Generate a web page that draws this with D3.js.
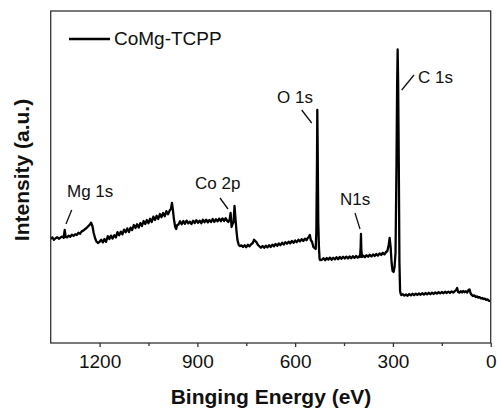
<!DOCTYPE html>
<html>
<head>
<meta charset="utf-8">
<script src="https://cdn.jsdelivr.net/npm/d3@7"></script>
<style>
  html, body { margin: 0; padding: 0; background: #fff; }
  svg { display: block; font-family: "Liberation Sans", Arial, sans-serif; }
</style>
</head>
<body>
<svg id="chart" width="497" height="409"></svg>
<script>
// ---- data ----
const seriesName = "CoMg-TCPP";
const bindingEnergy = [
  1350,1345,1340,1335,1330,1325,1320,1315,1310,1307,1304,1300,1295,1290,1285,1280,1275,1270,1265,1260,1255,1250,1245,1240,1235,1230,1226,1222,1218,1214,1210,1205,1200,
  1195,1190,1185,1180,1175,1170,1165,1160,1155,1150,1145,1140,1135,1130,1125,1120,1115,1110,1105,1100,1095,1090,1085,1080,1075,1070,1065,1060,1055,1050,1045,1040,1035,1030,1025,1020,1015,1010,1005,1000,995,990,985,981,978,975,972,968,965,962,
  958,953,948,943,938,933,928,923,918,913,908,903,898,893,888,883,878,873,868,863,858,853,848,843,838,833,828,823,818,813,809,805,801,798,795,792,789,786,783,780,777,773,769,
  765,760,755,750,745,740,735,730,726,722,718,714,710,705,700,695,690,685,680,675,670,665,660,655,650,645,640,635,630,625,620,615,610,605,600,595,590,585,580,575,570,565,561,558,555,552,548,544,540,537,535,533,532,531,529,527,525,523,
  518,513,508,503,498,493,488,483,478,473,468,463,458,453,448,443,438,433,428,423,418,413,408,404,401,399,398,397,395,391,386,381,376,371,366,361,356,351,346,341,336,331,326,321,317,313,310,307,304,301,298,295,292,289,287,285.5,284,282,280,278,276,274,
  270,265,260,255,250,245,240,235,230,225,220,215,210,205,200,195,190,185,180,175,170,165,160,155,150,145,140,135,130,125,120,115,110,106,103,100,96,92,88,84,80,76,72,68,65,62,58,54,50,46,42,38,34,30,26,22,18,14,10,6,3,0
];
const intensity = [
  52.0,52.8,51.6,52.4,52.9,52.1,52.7,53.2,52.6,56.5,53.0,52.8,53.6,53.1,54.2,53.5,54.4,54.0,55.1,54.6,55.8,56.2,56.9,57.5,58.4,59.2,60.2,58.5,55.0,52.5,50.8,50.0,50.6,
  51.7,50.3,52.0,50.6,53.4,52.0,53.7,52.2,53.9,52.8,55.4,53.9,55.7,54.3,56.7,55.4,57.3,55.5,57.7,56.5,59.0,57.5,59.4,57.7,59.9,58.5,61.0,59.5,61.5,59.9,62.1,60.5,63.2,61.5,63.6,62.0,64.5,62.9,65.0,63.4,65.9,64.4,66.2,67.0,70.0,66.5,62.0,58.0,57.0,59.0,
  59.2,60.9,59.4,61.0,59.6,61.2,59.8,60.7,59.5,61.1,60.0,61.4,60.1,61.2,59.9,61.6,60.4,61.7,60.3,61.5,60.5,62.0,60.6,61.9,60.8,62.2,60.9,62.3,61.0,62.4,61.2,60.5,61.8,65.0,58.0,59.5,60.5,68.5,62.0,56.0,51.5,49.0,48.5,
  48.8,48.0,48.9,47.9,49.1,48.3,49.4,50.0,51.6,51.0,50.2,49.0,48.4,47.6,48.5,47.6,48.7,47.8,48.9,48.0,49.2,48.3,49.5,48.6,49.8,48.9,50.1,49.2,50.4,49.6,50.7,49.8,51.0,50.1,51.3,50.4,51.6,50.8,51.9,51.0,52.2,51.4,52.6,53.0,54.0,51.5,50.5,48.0,47.5,47.0,55.0,90.0,116.5,100.0,60.0,48.0,42.0,41.5,
  41.6,42.4,41.4,42.5,41.7,42.7,41.6,42.6,41.8,42.9,41.9,43.0,42.1,43.1,42.2,43.2,42.3,43.3,42.4,43.4,42.5,43.5,42.7,43.4,43.0,48.0,54.5,47.0,43.0,43.7,42.9,43.9,43.1,44.1,43.3,44.3,43.5,44.5,43.7,44.8,44.0,45.1,44.3,45.5,46.0,49.0,52.5,48.0,40.0,36.0,35.5,38.0,45.0,90.0,130.0,146.8,130.0,90.0,40.0,26.0,24.5,24.0,
  24.4,23.7,24.3,23.6,24.5,23.8,24.6,23.9,24.7,24.0,24.8,24.1,24.9,24.2,25.0,24.3,25.1,24.4,25.2,24.5,25.3,24.7,25.4,24.8,25.5,24.9,25.6,25.0,25.7,25.1,25.8,25.2,25.9,26.5,27.5,25.5,25.2,25.9,25.3,26.0,25.4,25.9,25.2,26.5,26.8,25.0,24.0,23.5,23.8,23.0,23.3,22.7,22.9,22.3,22.5,22.0,22.2,21.6,21.8,21.2,21.0,20.8
];
const xTickValues = [1200, 900, 600, 300, 0];
const xMinorTickValues = [1050, 750, 450, 150];
const peakLabels = ["Mg 1s", "Co 2p", "O 1s", "N1s", "C 1s"];
const xTitle = "Binging Energy (eV)";
const yTitle = "Intensity (a.u.)";

// ---- layout ----
const svg = d3.select("#chart");
const plotLeft = 50.7, plotRight = 490.7, plotTop = 11, plotBottom = 343;

const x = d3.scaleLinear().domain([1350, 0]).range([plotLeft, plotRight]);
const y = d3.scaleLinear().domain([0, 166]).range([plotBottom, plotTop]);

const n = Math.min(bindingEnergy.length, intensity.length);
const data = d3.range(n).map(i => ({ e: bindingEnergy[i], v: intensity[i] }));

// spectrum
const line = d3.line().x(d => x(d.e)).y(d => y(d.v));
svg.append("path")
  .datum(data)
  .attr("d", line)
  .attr("fill", "none")
  .attr("stroke", "#000")
  .attr("stroke-width", 2.3)
  .attr("stroke-linejoin", "round");

// frame
svg.append("rect")
  .attr("x", plotLeft).attr("y", plotTop)
  .attr("width", plotRight - plotLeft).attr("height", plotBottom - plotTop)
  .attr("fill", "none").attr("stroke", "#333").attr("stroke-width", 1.3);

// x axis (major)
const ax = svg.append("g").attr("transform", `translate(0,${plotBottom})`)
  .call(d3.axisBottom(x).tickValues(xTickValues).tickSize(4).tickFormat(d3.format("d")));
ax.select(".domain").remove();
ax.selectAll(".tick line").attr("stroke", "#333").attr("stroke-width", 1.3);
ax.selectAll(".tick text")
  .attr("y", 12).attr("dy", "0.71em")
  .attr("fill", "#111")
  .style("font-size", "19px")
  .style("font-family", "'Liberation Sans', Arial, sans-serif");
// minor ticks
const axm = svg.append("g").attr("transform", `translate(0,${plotBottom})`)
  .call(d3.axisBottom(x).tickValues(xMinorTickValues).tickSize(3).tickFormat(""));
axm.select(".domain").remove();
axm.selectAll(".tick line").attr("stroke", "#333").attr("stroke-width", 1.3);

// titles
svg.append("text")
  .attr("x", 271).attr("y", 404)
  .attr("text-anchor", "middle")
  .style("font-size", "21px").style("font-weight", "bold")
  .attr("fill", "#111")
  .text(xTitle);
svg.append("text")
  .attr("transform", "translate(28.5,170) rotate(-90)")
  .attr("text-anchor", "middle")
  .style("font-size", "21px").style("font-weight", "bold")
  .attr("fill", "#111")
  .text(yTitle);

// legend
svg.append("line")
  .attr("x1", 69).attr("x2", 110).attr("y1", 39).attr("y2", 39)
  .attr("stroke", "#000").attr("stroke-width", 2.3);
svg.append("text")
  .attr("x", 114).attr("y", 45)
  .style("font-size", "19px").attr("fill", "#111")
  .text(seriesName);

// peak annotations: [text x, text baseline, line x1, y1, x2, y2] in pixels
const annoLayout = [
  [67, 197, 71.7, 210, 66, 224],
  [195, 189, 220, 198, 228, 209],
  [277, 103, 301.7, 110, 311.7, 123],
  [340, 205, 355, 213, 360, 229],
  [418, 83, 401.7, 90, 414, 75]
];
peakLabels.forEach((lab, i) => {
  const a = annoLayout[i];
  svg.append("text")
    .attr("x", a[0]).attr("y", a[1])
    .style("font-size", "17px").attr("fill", "#111")
    .text(lab);
  svg.append("line")
    .attr("x1", a[2]).attr("y1", a[3]).attr("x2", a[4]).attr("y2", a[5])
    .attr("stroke", "#111").attr("stroke-width", 1.3);
});
</script>
</body>
</html>
